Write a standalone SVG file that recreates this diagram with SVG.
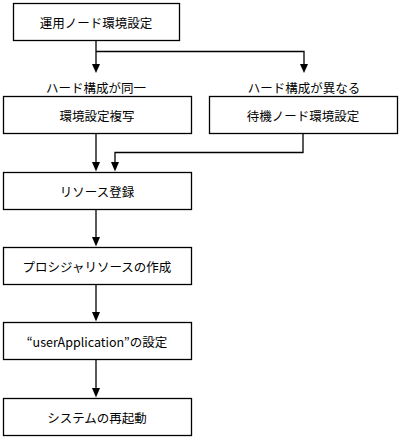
<svg xmlns="http://www.w3.org/2000/svg" width="401" height="439" viewBox="0 0 401 439">
<defs>
<marker id="arr" markerWidth="8" markerHeight="10" refX="4" refY="9" orient="auto-start-reverse" markerUnits="userSpaceOnUse" viewBox="0 0 8 10">
<path d="M0,0 L8,0 L4,9 Z" fill="#000"/>
</marker>
<style>
.box{fill:#fff;stroke:#000;stroke-width:1.3}
.t{font-family:"Noto Sans CJK JP","Noto Sans",sans-serif;font-size:12.5px;fill:#000;text-anchor:middle;dominant-baseline:central}
.c{fill:none;stroke:#000;stroke-width:1.3}
</style>
</defs>
<rect width="401" height="439" fill="#fff"/>
<g id="connectors">
<path class="c" d="M96,40.5 V65"/>
<path d="M92,64 L100,64 L96,73 Z" fill="#000"/>
<path class="c" d="M96,51.5 H304 V65"/>
<path d="M300,64 L308,64 L304,73 Z" fill="#000"/>
<path class="c" d="M96,133.5 V163"/>
<path d="M92,162 L100,162 L96,171.5 Z" fill="#000"/>
<path class="c" d="M303,133.5 V152.5 H115 V163"/>
<path d="M111,162 L119,162 L115,171.5 Z" fill="#000"/>
<path class="c" d="M96,209.5 V238"/>
<path d="M92,237 L100,237 L96,246.5 Z" fill="#000"/>
<path class="c" d="M96,284.5 V313"/>
<path d="M92,312 L100,312 L96,321.5 Z" fill="#000"/>
<path class="c" d="M96,359.5 V389"/>
<path d="M92,388 L100,388 L96,397.5 Z" fill="#000"/>
<text class="t" x="96" y="87">ハード構成が同一</text>
<text class="t" x="304" y="87">ハード構成が異なる</text>
</g>
<g id="n1"><rect class="box" x="13.5" y="3.5" width="166" height="37"/><text class="t" x="96" y="22">運用ノード環境設定</text></g>
<g id="n2"><rect class="box" x="3.5" y="96.5" width="188" height="37"/><text class="t" x="97" y="115">環境設定複写</text></g>
<g id="n3"><rect class="box" x="209.5" y="96.5" width="188" height="37"/><text class="t" x="303" y="115">待機ノード環境設定</text></g>
<g id="n4"><rect class="box" x="3.5" y="172.5" width="188" height="37"/><text class="t" x="97" y="191">リソース登録</text></g>
<g id="n5"><rect class="box" x="3.5" y="247.5" width="188" height="37"/><text class="t" x="97" y="266">プロシジャリソースの作成</text></g>
<g id="n6"><rect class="box" x="3.5" y="322.5" width="188" height="37"/><text class="t" x="97" y="341">“userApplication”の設定</text></g>
<g id="n7"><rect class="box" x="3.5" y="398.5" width="188" height="37"/><text class="t" x="97" y="417">システムの再起動</text></g>
</svg>
